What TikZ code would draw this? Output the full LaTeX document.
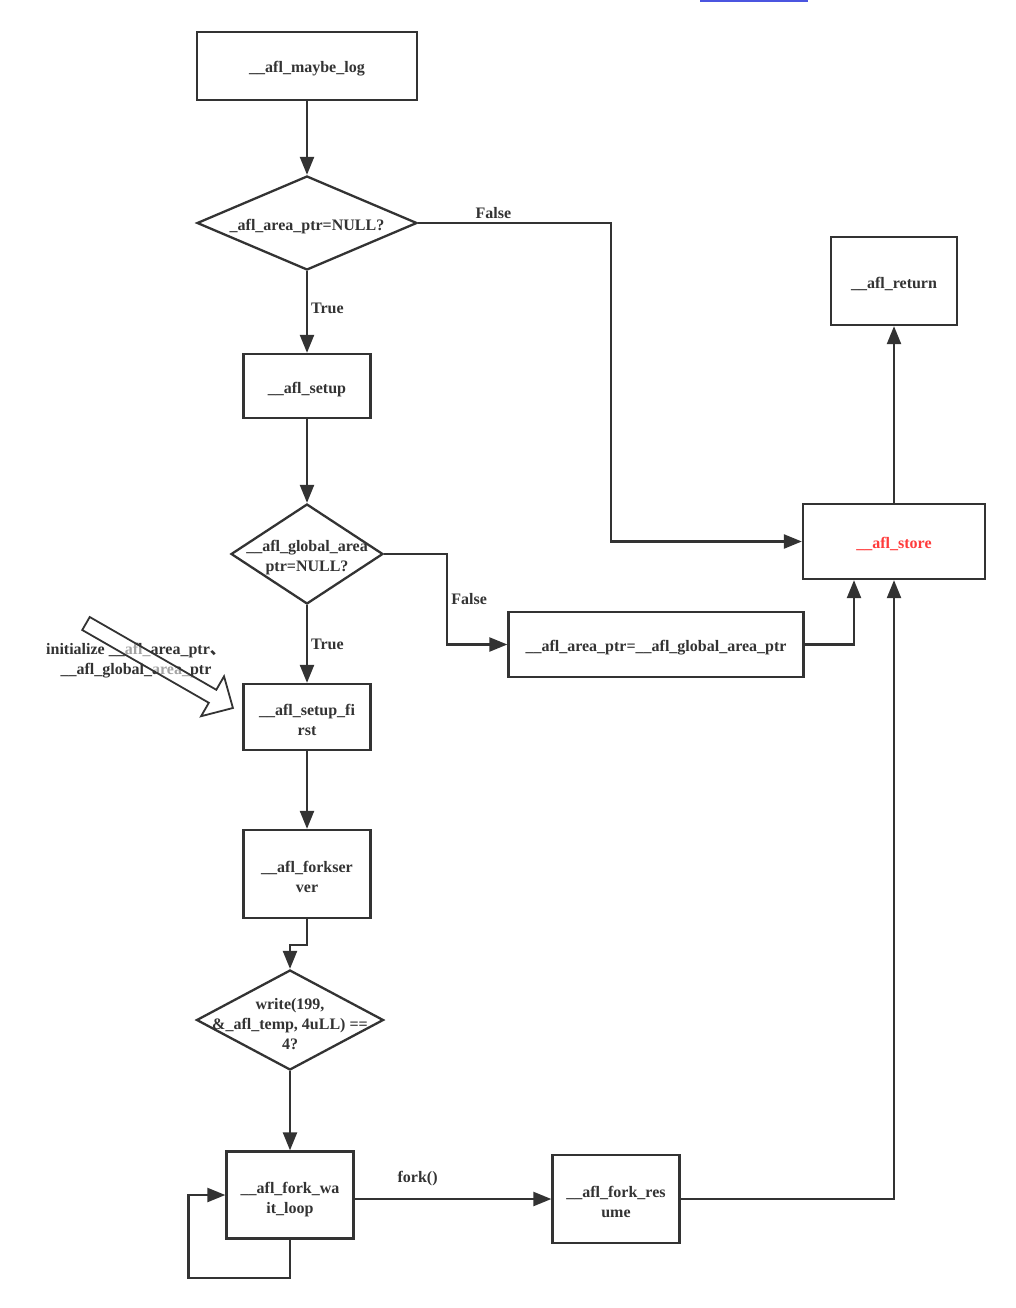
\documentclass[tikz,border=0pt]{standalone}
\usepackage{fontspec}
\setmainfont{Liberation Serif}
\newfontfamily\cjk{Noto Sans CJK SC}
\usetikzlibrary{shapes.geometric,arrows.meta}
\definecolor{inkgray}{HTML}{333333}
\definecolor{storered}{HTML}{FF3B3B}
\definecolor{linkblue}{HTML}{4B55E0}
\begin{document}
\begin{tikzpicture}[
	x=1pt, y=-1pt,
	font=\fontsize{16pt}{20pt}\selectfont\bfseries,
	block/.style={ rectangle, draw=inkgray, line width=2.3pt, text=inkgray, align=center, inner sep=2pt, text height=14pt, text depth=0pt },
	twoline/.style={ block, text height=36pt },
	decision/.style={ diamond, draw=inkgray, line width=2.3pt, inner sep=0pt },
	inside/.style={ text=inkgray, align=center, yshift=-4pt },
	flow/.style={ draw=inkgray, line width=2.3pt, -{Triangle[length=18pt,width=14pt]} },
	lbl/.style={ text=inkgray, inner sep=3pt }
]
\useasboundingbox (0,0) rectangle (1016,1308);
\fill[linkblue] (700,0) rectangle (808,2.5);

\node at (307,66) (maybelog) [block, minimum width=220, minimum height=68] {\_\_afl\_maybe\_log};
\node at (307,223) (areadiam) [decision, minimum width=220, minimum height=94,
	label={[inside]center:\_afl\_area\_ptr=NULL?}] {};
\node at (307,386) (setup) [block, minimum width=127, minimum height=64] {\_\_afl\_setup};
\node at (307,554) (globdiam) [decision, minimum width=152, minimum height=100,
	label={[inside]center:\_\_afl\_global\_area\\ptr=NULL?}] {};
\node at (307,717) (setupfirst) [twoline, minimum width=127, minimum height=66] {\_\_afl\_setup\_fi\\rst};
\node at (307,874) (forksrv) [twoline, minimum width=127, minimum height=88] {\_\_afl\_forkser\\ver};
\node at (290,1020) (waitdiam) [decision, minimum width=187, minimum height=100,
	label={[inside]center:write(199,\\\&\_afl\_temp, 4uLL) ==\\4?}] {};
\node at (290,1195) (waitloop) [twoline, minimum width=127, minimum height=87] {\_\_afl\_fork\_wa\\it\_loop};
\node at (616,1199) (resume) [twoline, minimum width=127, minimum height=88] {\_\_afl\_fork\_res\\ume};
\node at (656,644.5) (assign) [block, minimum width=295, minimum height=65] {\_\_afl\_area\_ptr=\_\_afl\_global\_area\_ptr};
\node at (894,541.5) (store) [block, minimum width=182, minimum height=75, text=storered] {\_\_afl\_store};
\node at (894,281) (return) [block, minimum width=126, minimum height=88] {\_\_afl\_return};

\node at (136,661) (note) [text=inkgray, align=center] {initialize \_\_afl\_area\_ptr{\cjk 、}\\\_\_afl\_global\_area\_ptr};
\begin{scope}[shift={(86,623.5)}, rotate=-29.9]
	\draw[inkgray, line width=1.8pt, fill=white, fill opacity=0.55, line join=miter]
		(0,-7.5) -- (146,-7.5) -- (146,-23) -- (169.5,0) -- (146,23) -- (146,7.5) -- (0,7.5) -- cycle;
\end{scope}

\draw[flow] (maybelog) -- (areadiam);
\draw[flow] (areadiam) -- node[lbl, right, yshift=4pt] (t1) {True} (setup);
\draw[flow] (areadiam.east) -- node[lbl, above, pos=0.39] (f1) {False} ++(193,0) |- (store.west);
\draw[flow] (setup) -- (globdiam);
\draw[flow] (globdiam) -- node[lbl, right] (t2) {True} (setupfirst);
\draw[flow] (globdiam.east) -- ++(63,0) |- node[lbl, right, pos=0.25] (f2) {False} (assign.west);
\draw[flow] (assign.east) -| ([xshift=-40pt]store.south);
\draw[flow] (setupfirst) -- (forksrv);
\draw[flow] (forksrv.south) -- ++(0,26) -| (waitdiam.north);
\draw[flow] (waitdiam) -- (waitloop);
\draw[flow] (resume.west -| waitloop.east) -- node[lbl, above=9pt, pos=0.32] (fk) {fork()} (resume.west);
\draw[flow] (waitloop.south) -- ++(0,38) -| ([xshift=-37pt]waitloop.west) -- (waitloop.west);
\draw[flow] (resume.east) -| (store.south);
\draw[flow] (store) -- (return);

\end{tikzpicture}
\end{document}
